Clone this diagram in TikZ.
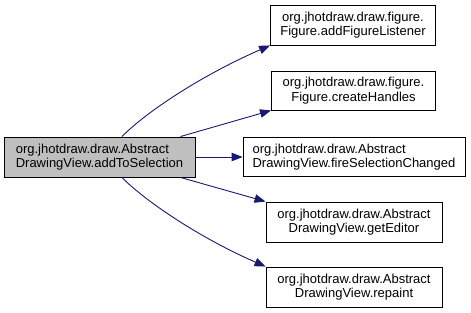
\documentclass[tikz,border=0pt]{standalone}
\usepackage{fontspec}
\setmainfont{Liberation Sans}
\usetikzlibrary{arrows.meta}
\definecolor{edgeblue}{HTML}{191970}
\definecolor{activegray}{HTML}{BFBFBF}
\begin{document}
\begin{tikzpicture}[x=1pt,y=-1pt,
  fn/.style={draw=black, line width=0.9pt, fill=white, rectangle, inner sep=0pt,
    font=\fontsize{13}{14.5}\selectfont, align=center},
  cur/.style={fn, fill=activegray, align=left},
  call/.style={draw=edgeblue, line width=0.9pt,
    -{Triangle[length=11pt,width=8.5pt]}}]
\useasboundingbox (0,0) rectangle (471,313);
% caller
\node[cur, minimum width=191pt, minimum height=40pt] (main) at (99.5,157)
  {org.jhotdraw.draw.Abstract\\DrawingView.addToSelection};
% callees
\node[fn, minimum width=165pt, minimum height=40pt] (fig1) at (353,25)
  {org.jhotdraw.draw.figure.\\Figure.addFigureListener};
\node[fn, minimum width=164pt, minimum height=39pt] (fig2) at (353.5,90.5)
  {org.jhotdraw.draw.figure.\\Figure.createHandles};
\node[fn, align=left, minimum width=222pt, minimum height=39pt] (fire) at (354,157)
  {org.jhotdraw.draw.Abstract\\DrawingView.fireSelectionChanged};
\node[fn, minimum width=176pt, minimum height=40pt] (editor) at (354,222)
  {org.jhotdraw.draw.Abstract\\DrawingView.getEditor};
\node[fn, minimum width=176pt, minimum height=40pt] (repaint) at (354,287)
  {org.jhotdraw.draw.Abstract\\DrawingView.repaint};
% calls
\draw[call] ([xshift=22.5pt]main.north) .. controls (145,113) and (200,76) .. (fig1.south west);
\draw[call] ([xshift=-15pt]main.north east) -- (fig2.south west);
\draw[call] (main.east) -- (fire.west);
\draw[call] ([xshift=-15pt]main.south east) -- (editor.north west);
\draw[call] ([xshift=22.5pt]main.south) .. controls (145,201) and (200,238) .. (repaint.north west);
\end{tikzpicture}
\end{document}
